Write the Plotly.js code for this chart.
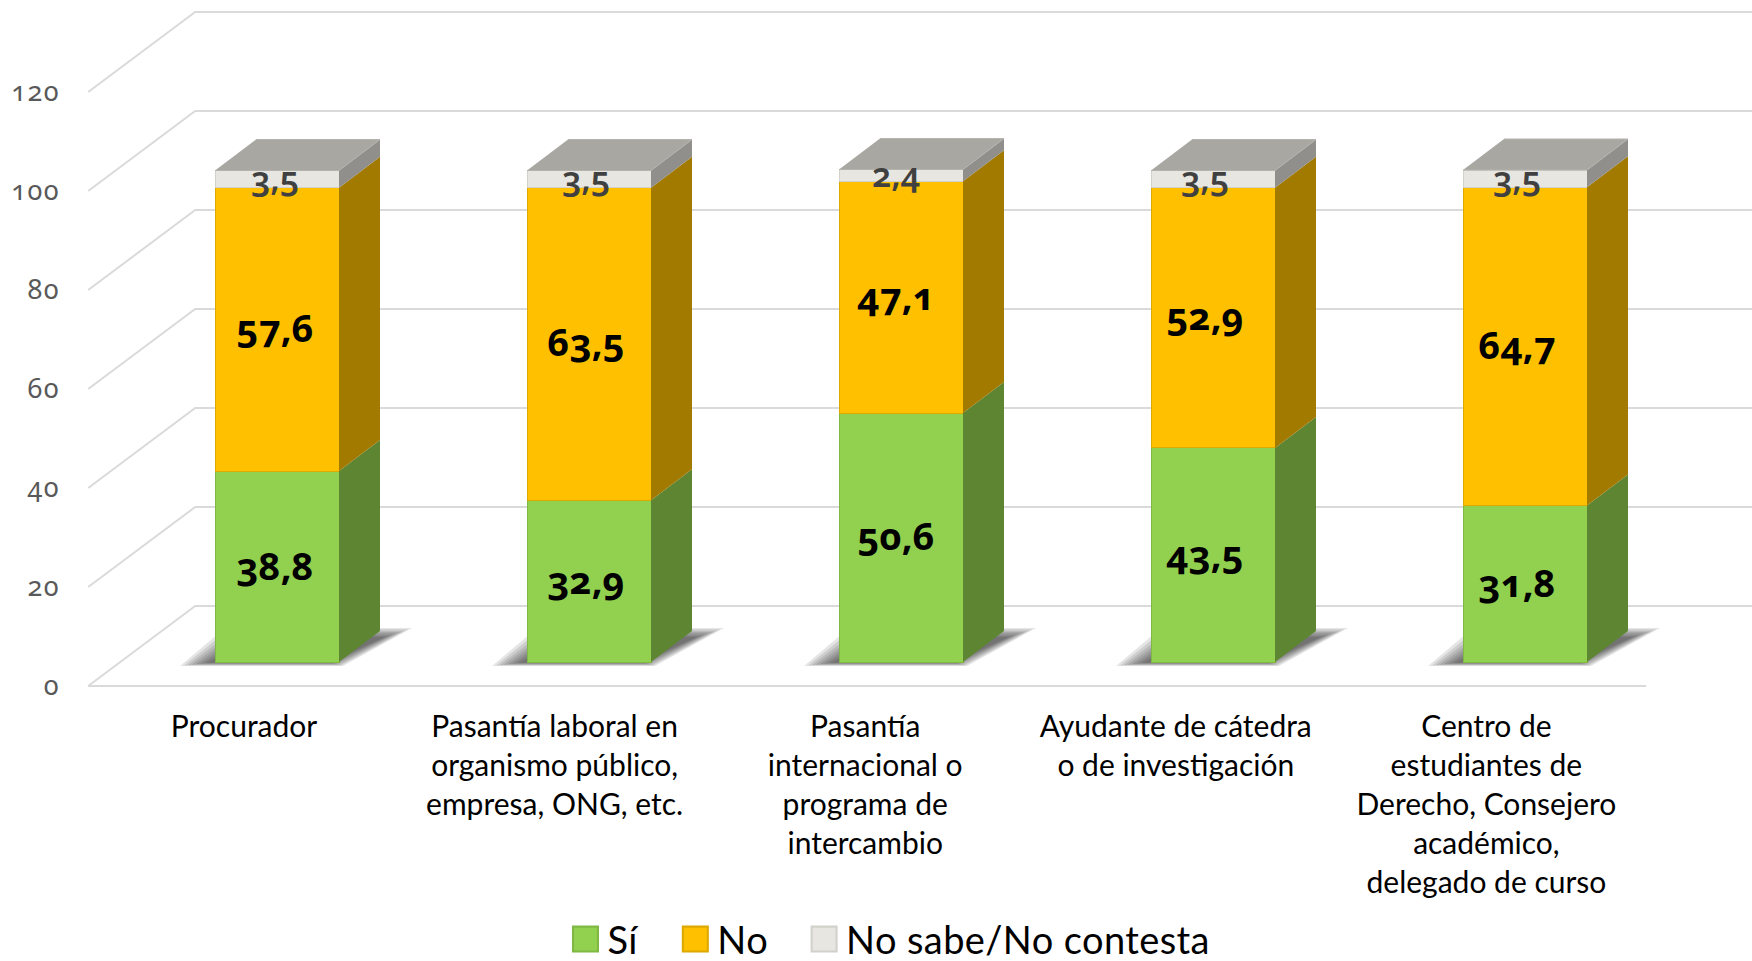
<!DOCTYPE html>
<html><head><meta charset="utf-8">
<script src="https://cdn.plot.ly/plotly-3.0.1.min.js"></script>
<style>
html,body{margin:0;padding:0;background:#fff;overflow:hidden}
.ytick text,.textpoint text{font-variant-numeric:oldstyle-nums !important;font-feature-settings:"onum" 1 !important}
.ytick text{letter-spacing:1.5px}
.legendtext{letter-spacing:0.4px}
.legendpoints path{transform:translate(51px,0) scale(2.08,2.08) !important}
</style></head><body><div id="chart" style="width:1752px;height:961px"></div>
<script>
const categories=["Procurador","Pasantía laboral en<br>organismo público,<br>empresa, ONG, etc.","Pasantía<br>internacional o<br>programa de<br>intercambio","Ayudante de cátedra<br>o de investigación","Centro de<br>estudiantes de<br>Derecho, Consejero<br>académico,<br>delegado de curso"];
const si=[38.8,32.9,50.6,43.5,31.8];
const no=[57.6,63.5,47.1,52.9,64.7];
const nsnc=[3.5,3.5,2.4,3.5,3.5];
const yTicks=[0,20,40,60,80,100,120];
const positions=categories.map((c,i)=>i);

const PX=1/311.6, PY=1/4.95;           // one pixel in wall-axis units
const BX=1/312, BY=1/4.92;             // one pixel in bar-axis units
const barW=124*BX, depthX=41*BX, depthY=31*BY, wallX=107*PX, wallY=80*PY;
const labelDrift=[-2,-3,-5,-8,-8].map(v=>v*BX);
const tickDrift=[0,-1,-2,-3,-4].map(v=>v*PX);
const labelDrop=[0.7,0.6,0.7];
const fmt=v=>v.toFixed(1).replace('.',',');
const cum=(...ss)=>positions.map(i=>ss.reduce((a,s)=>a+s[i],0));

function poly(pts){const x=[],y=[];pts.forEach(p=>{p.forEach(q=>{x.push(q[0]);y.push(q[1]);});x.push(null);y.push(null);});return{x,y};}
const traces=[];

// back wall and floor grid
yTicks.forEach(v=>{
  const lastX=4.5+wallX;
  const x=v===0?[4.5,-0.5,-0.5+wallX,lastX]:[-0.5,-0.5+wallX,lastX];
  const y=v===0?[0,0,wallY,wallY]:[v,v+wallY,v+wallY];
  traces.push({type:'scatter',mode:'lines',x,y,line:{color:'#DADADA',width:2},showlegend:false,hoverinfo:'skip',xaxis:'x',yaxis:'y'});
});
// soft floor shadows
[0,4,8,12,16,20,24,28].forEach(ins=>{
  const p=poly(positions.map(i=>{
    const cx=(277-244)*PX+i*312/311.6, b=24*PY;
    return [[cx+(-97+ins)*PX,b+(-4+ins/8)*PY],[cx+(66-ins/2)*PX,b+(-4+ins/8)*PY],[cx+(135-ins)*PX,b+(34-ins/3)*PY],[cx+(-52+ins)*PX,b+(34-ins/3)*PY]];
  }));
  traces.push({type:'scatter',mode:'lines',x:p.x,y:p.y,fill:'toself',fillcolor:'rgba(40,40,40,0.12)',line:{width:0},showlegend:false,hoverinfo:'skip',xaxis:'x',yaxis:'y'});
});

// front faces
const series=[
 {name:'Sí',v:si,base:positions.map(()=>0),front:'#92D050',edge:'#7FB944',side:'#5E8532'},
 {name:'No',v:no,base:cum(si),front:'#FFC000',edge:'#DDA800',side:'#A37A00'},
 {name:'No sabe/No contesta',v:nsnc,base:cum(si,no),front:'#E7E6E1',edge:'#D2D1CB',side:'#908F8B'}
];
series.forEach(s=>{
  traces.push({type:'bar',name:s.name,x:positions,y:s.v,width:barW,marker:{color:s.front,line:{color:s.edge,width:1}},xaxis:'x2',yaxis:'y2',hoverinfo:'skip'});
});
// side faces
series.forEach(s=>{
  const p=poly(positions.map(i=>{
    const r=i+barW/2, b=s.base[i], t=b+s.v[i];
    return [[r,b],[r+depthX,b+depthY],[r+depthX,t+depthY],[r,t]];
  }));
  traces.push({type:'scatter',mode:'lines',x:p.x,y:p.y,fill:'toself',fillcolor:s.side,line:{width:0},showlegend:false,hoverinfo:'skip',xaxis:'x2',yaxis:'y2'});
});
// top faces
const tops=cum(si,no,nsnc);
const tp=poly(positions.map(i=>{
  const l=i-barW/2,r=i+barW/2,t=tops[i];
  return [[l,t],[r,t],[r+depthX,t+depthY],[l+depthX,t+depthY]];
}));
traces.push({type:'scatter',mode:'lines',x:tp.x,y:tp.y,fill:'toself',fillcolor:'#A9A7A2',line:{color:'#B5B3AE',width:1},showlegend:false,hoverinfo:'skip',xaxis:'x2',yaxis:'y2'});
// value labels
series.forEach((s,k)=>{
  traces.push({type:'scatter',mode:'text',
    x:positions.map(i=>i+labelDrift[i]),
    y:positions.map(i=>s.base[i]+s.v[i]/2-labelDrop[k]),
    text:s.v.map(fmt),textposition:'middle center',
    textfont:k===2?{family:'"Noto Sans","Open Sans",sans-serif',size:34,color:'#404040',weight:600}:{family:'"Noto Sans","Open Sans",sans-serif',size:38,color:'#000',weight:700},
    showlegend:false,hoverinfo:'skip',xaxis:'x2',yaxis:'y2'});
});

const left=61,bottomPx=700;
const xr=[(left-244)*PX,(1752-244)*PX];
const yr=[(686-bottomPx)*PY,686*PY];
const layout={
 width:1752,height:961,paper_bgcolor:'#fff',plot_bgcolor:'rgba(0,0,0,0)',
 margin:{l:left,r:0,t:0,b:961-bottomPx,pad:0,autoexpand:false},
 barmode:'stack',showlegend:true,
 legend:{orientation:'h',x:0.28,xanchor:'left',y:-0.297,yanchor:'top',traceorder:'normal',itemwidth:63,
   font:{family:'Lato,sans-serif',size:38,color:'#000'},bgcolor:'rgba(0,0,0,0)'},
 xaxis:{range:xr,tickmode:'array',tickvals:positions.map(i=>i+tickDrift[i]),ticktext:categories,showgrid:false,zeroline:false,showline:false,ticks:'',tickangle:0,ticklabelstandoff:6,
   tickfont:{family:'Lato,sans-serif',size:30,color:'#000'}},
 yaxis:{range:yr,tickmode:'array',tickvals:yTicks,ticktext:yTicks.map(String),showgrid:false,zeroline:false,showline:false,ticks:'',
   tickfont:{family:'"Noto Sans",sans-serif',size:27,color:'#595959'}},
 xaxis2:{range:[(left-277)*BX,(1752-277)*BX],overlaying:'x',visible:false},
 yaxis2:{range:[(662-bottomPx)*BY,662*BY],overlaying:'y',visible:false}
};
Plotly.newPlot('chart',traces,layout,{displayModeBar:false,staticPlot:true});
</script></body></html>
